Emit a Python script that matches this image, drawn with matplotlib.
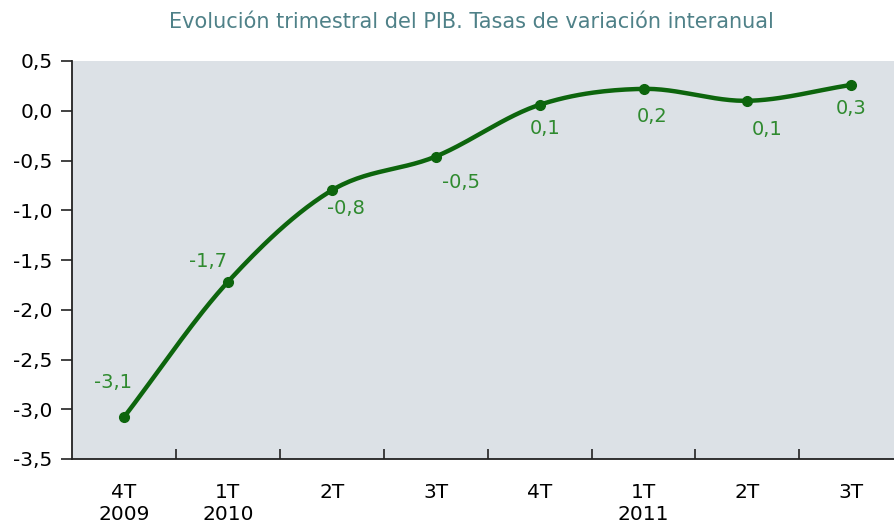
import numpy as np
import matplotlib.pyplot as plt
from matplotlib.ticker import FuncFormatter

# datos
trimestres = ['4T\n2009', '1T\n2010', '2T', '3T', '4T', '1T\n2011', '2T', '3T']
pib = [-3.08, -1.72, -0.80, -0.46, 0.06, 0.22, 0.10, 0.26]
etiquetas = ['-3,1', '-1,7', '-0,8', '-0,5', '0,1', '0,2', '0,1', '0,3']

# desplazamiento de cada etiqueta (puntos)
offs = [(-8, 25), (-14, 15), (10, -13), (18, -19), (4, -17), (6, -20), (14, -21), (0, -17)]


def catmull_rom(x, y, n=30):
    # curva suavizada tipo Excel
    x = np.asarray(x, float)
    y = np.asarray(y, float)
    px = np.concatenate([[2 * x[0] - x[1]], x, [2 * x[-1] - x[-2]]])
    py = np.concatenate([[2 * y[0] - y[1]], y, [2 * y[-1] - y[-2]]])
    xs, ys = [], []
    t = np.linspace(0, 1, n)
    for i in range(1, len(px) - 2):
        for p, out in ((px, xs), (py, ys)):
            p0, p1, p2, p3 = p[i - 1], p[i], p[i + 1], p[i + 2]
            out.extend(0.5 * (2 * p1 + (-p0 + p2) * t
                              + (2 * p0 - 5 * p1 + 4 * p2 - p3) * t ** 2
                              + (-p0 + 3 * p1 - 3 * p2 + p3) * t ** 3))
    return np.array(xs), np.array(ys)


plt.rcParams['font.family'] = ['DejaVu Sans']

fig = plt.figure(figsize=(8.95, 5.31), dpi=100)
ax = fig.add_axes([72 / 895, 1 - 459 / 531, 1 - 72 / 895, 398 / 531])
ax.set_facecolor('#dce1e6')

x = np.arange(len(pib))
sx, sy = catmull_rom(x, pib)
ax.plot(sx, sy, color='#0d650d', lw=3.2, solid_capstyle='round', zorder=3)
ax.plot(x, pib, 'o', color='#0d650d', ms=7, zorder=4)

for xi, yi, lab, (dx, dy) in zip(x, pib, etiquetas, offs):
    ax.annotate(lab, (xi, yi), xytext=(dx, dy), textcoords='offset points',
                ha='center', va='center', color='#2f8a2f', fontsize=14)

ax.set_xlim(-0.5, 7.42)
ax.set_ylim(-3.5, 0.5)
ax.set_yticks(np.arange(-3.5, 0.51, 0.5))
ax.yaxis.set_major_formatter(FuncFormatter(lambda v, p: f'{v:.1f}'.replace('.', ',')))
ax.tick_params(axis='y', direction='out', length=8, width=1.2, labelsize=14.5, pad=6, color='#222222')

ax.set_xticks(x)
ax.set_xticklabels(trimestres, fontsize=14.5, linespacing=1.25)
ax.set_xticks(np.arange(0.5, 7, 1), minor=True)
ax.tick_params(axis='x', which='major', length=0, pad=17)
ax.tick_params(axis='x', which='minor', direction='in', length=7, width=1.2, color='#222222')

for s in ['top', 'right']:
    ax.spines[s].set_visible(False)
for s in ['left', 'bottom']:
    ax.spines[s].set_color('#222222')
    ax.spines[s].set_linewidth(1.3)

fig.text(0.527, 1 - 22 / 531, 'Evolución trimestral del PIB. Tasas de variación interanual',
         ha='center', va='center', fontsize=15, color='#4f8188')

fig.savefig('out.png', dpi=100)
